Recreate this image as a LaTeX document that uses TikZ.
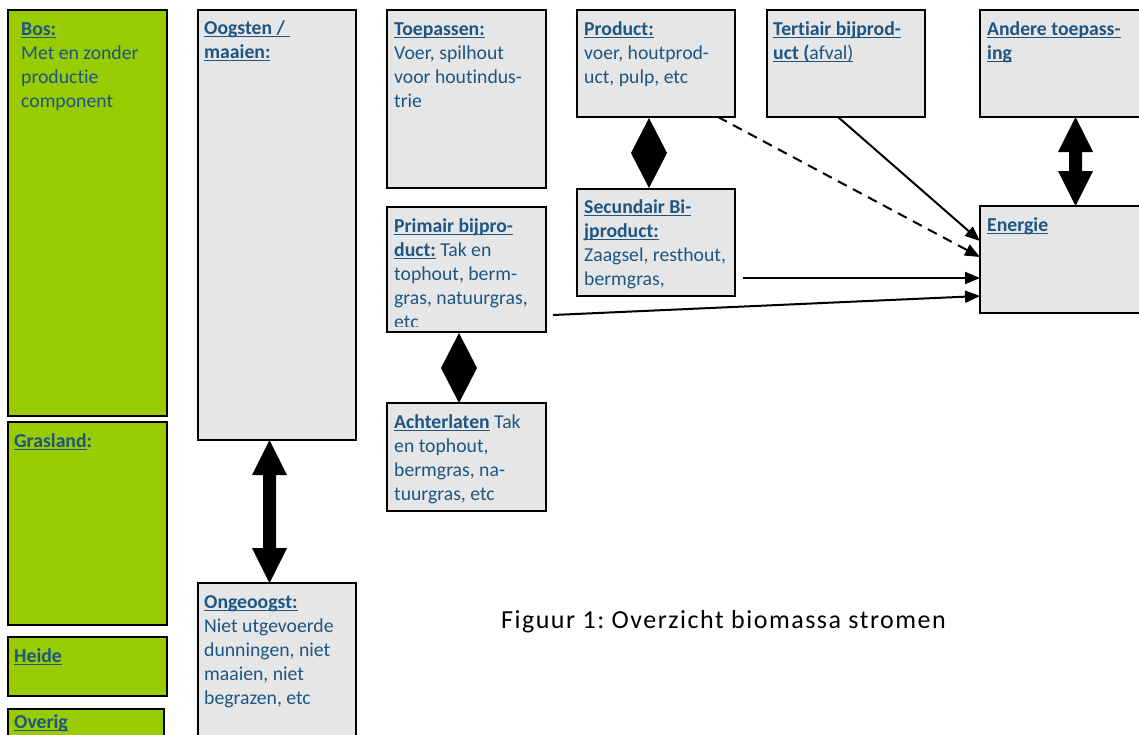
\documentclass[tikz,border=0pt]{standalone}
\usepackage{fontspec}
\setmainfont{Carlito}[Ligatures={NoCommon}]
\newfontfamily\capfont{Carlito}[Ligatures={NoCommon},LetterSpace=5.8]
\usetikzlibrary{arrows.meta,calc}
\definecolor{txtblue}{HTML}{1D5583}
\definecolor{boxgray}{HTML}{E6E6E6}
\definecolor{leafgreen}{HTML}{99CC00}
\frenchspacing
\newcommand\uln[1]{\setbox0\hbox{#1}\rlap{\rule[-2.6pt]{\wd0}{1.3pt}}\box0\relax}
\newcommand\dblarrow[2]{%
  \fill let \p1=(#1), \p2=(#2) in
    (\x1,\y1) -- ++(17.5pt,-35pt) -- ++(-11pt,0pt) -- (\x1+6.5pt,\y2+35pt) -- ++(11pt,0pt)
    -- (\x1,\y2) -- ++(-17.5pt,35pt) -- ++(11pt,0pt) -- (\x1-6.5pt,\y1-35pt) -- ++(-11pt,0pt) -- cycle;}
\newcommand\diam[2]{%
  \fill let \p1=(#1), \p2=(#2) in
    (\x1,\y1) -- (\x1+18pt,{(\y1+\y2)/2}) -- (\x1,\y2) -- (\x1-18pt,{(\y1+\y2)/2}) -- cycle;}
\begin{document}
\begin{tikzpicture}[x=1pt,y=-1pt,
  box/.style={draw=black,line width=2pt,anchor=north west,inner sep=0pt,outer sep=0pt},
  gbox/.style={box,fill=leafgreen},
  wbox/.style={box,fill=boxgray},
  txt/.style={anchor=north west,inner sep=0pt,align=left,text=txtblue,font=\fontsize{19.7}{24}\selectfont},
  conn/.style={line width=2pt,-{Triangle[length=15pt,width=12pt]}}]
\useasboundingbox (0,0) rectangle (1139,734);
\clip (0,0) rectangle (1139,734);
\fill[white] (0,0) rectangle (1139,734);
% left column
\node[gbox,minimum width=159pt,minimum height=406pt] (bos) at (8,10) {};
\node[gbox,minimum width=159pt,minimum height=203pt] (grasland) at (8,422) {};
\node[gbox,minimum width=159pt,minimum height=59pt] (heide) at (8,637) {};
\node[gbox,minimum width=156pt,minimum height=60pt] (overig) at (8,709) {};
% second column
\node[wbox,minimum width=158pt,minimum height=430pt] (oogsten) at (198,10) {};
\node[wbox,minimum width=158pt,minimum height=200pt] (ongeoogst) at (198,583) {};
% third column
\node[wbox,minimum width=159pt,minimum height=178pt] (toepassen) at (387,10) {};
\node[wbox,minimum width=159pt,minimum height=125pt] (primair) at (387,207) {};
\node[wbox,minimum width=159pt,minimum height=108pt] (achterlaten) at (387,403) {};
% fourth column
\node[wbox,minimum width=158pt,minimum height=107pt] (product) at (577,10) {};
\node[wbox,minimum width=158pt,minimum height=107pt] (secundair) at (577,189) {};
% fifth / sixth
\node[wbox,minimum width=158pt,minimum height=107pt] (tertiair) at (767,10) {};
\node[wbox,minimum width=200pt,minimum height=107pt] (andere) at (980,10) {};
\node[wbox,minimum width=200pt,minimum height=107pt] (energie) at (980,206) {};
% texts
\node[txt] (tbos) at (21,18.2) {\strut\uln{\textbf{Bos:}}\\Met en zonder\\productie\\component};
\node[txt] (tgras) at (14,430.2) {\strut\textbf{\uln{Grasland}:}};
\node[txt] (theide) at (14,645.2) {\strut\uln{\textbf{Heide}}};
\node[txt] (tover) at (14,711.2) {\strut\uln{\textbf{Overig}}};
\node[txt] (toog) at (204,17.2) {\strut\uln{\textbf{Oogsten / }}\\\uln{\textbf{maaien:}}};
\node[txt] (tongeo) at (204,591.2) {\strut\uln{\textbf{Ongeoogst:}}\\Niet utgevoerde\\dunningen, niet\\maaien, niet\\begrazen, etc};
\node[txt] (ttoep) at (394,18.2) {\strut\uln{\textbf{Toepassen:}}\\Voer, spilhout\\voor houtindus-\\trie};
\begin{scope}
\clip (387,207) rectangle (546,326.5);
\node[txt] (tprim) at (394,215.2) {\strut\uln{\textbf{Primair bijpro-}}\\\uln{\textbf{duct:}} Tak en\\tophout, berm-\\gras, natuurgras,\\etc};
\end{scope}
\node[txt] (tachter) at (394,411.2) {\strut\uln{\textbf{Achterlaten}} Tak\\en tophout,\\bermgras, na-\\tuurgras, etc};
\node[txt] (tprod) at (584,18.2) {\strut\uln{\textbf{Product:}}\\voer, houtprod-\\uct, pulp, etc};
\node[txt] (tsec) at (584,196.2) {\strut\uln{\textbf{Secundair Bi-}}\\\uln{\textbf{jproduct:}}\\Zaagsel, resthout,\\bermgras,};
\node[txt] (tter) at (773,18.2) {\strut\uln{\textbf{Tertiair bijprod-}}\\\uln{\textbf{uct (}afval)}};
\node[txt] (tand) at (987,18.2) {\strut\uln{\textbf{Andere toepass-}}\\\uln{\textbf{ing}}};
\node[txt] (tener) at (987,214.2) {\strut\uln{\textbf{Energie}}};
% connectors
\coordinate (a1) at ($(oogsten.south west)+(71.5,0)$);
\coordinate (a2) at ($(ongeoogst.north west)+(71.5,0)$);
\dblarrow{a1}{a2}
\coordinate (b1) at ($(andere.south west)+(95.5,0)$);
\coordinate (b2) at ($(energie.north west)+(95.5,0)$);
\dblarrow{b1}{b2}
\coordinate (d1) at ($(product.south west)+(72,1)$);
\coordinate (d2) at ($(secundair.north west)+(72,-1)$);
\diam{d1}{d2}
\coordinate (e1) at ($(primair.south west)+(72,1)$);
\coordinate (e2) at ($(achterlaten.north west)+(72,0)$);
\diam{e1}{e2}
\draw[conn] ($(tertiair.south west)+(71,0)$) -- ($(energie.north west)+(0,35)$);
\draw[conn,dash pattern=on 10pt off 7pt] ($(product.south west)+(141,0)$) -- ($(energie.north west)+(0,51)$);
\draw[conn] ($(secundair.south east)+(8,-18)$) -- ($(energie.north west)+(0,72)$);
\draw[conn] ($(primair.south east)+(7,-17)$) -- ($(energie.north west)+(0,90)$);
% caption
\node[anchor=base west,inner sep=0pt,font=\capfont\fontsize{26}{30}\selectfont] (cap) at (501,628) {Figuur 1: Overzicht biomassa stromen};
\end{tikzpicture}
\end{document}
